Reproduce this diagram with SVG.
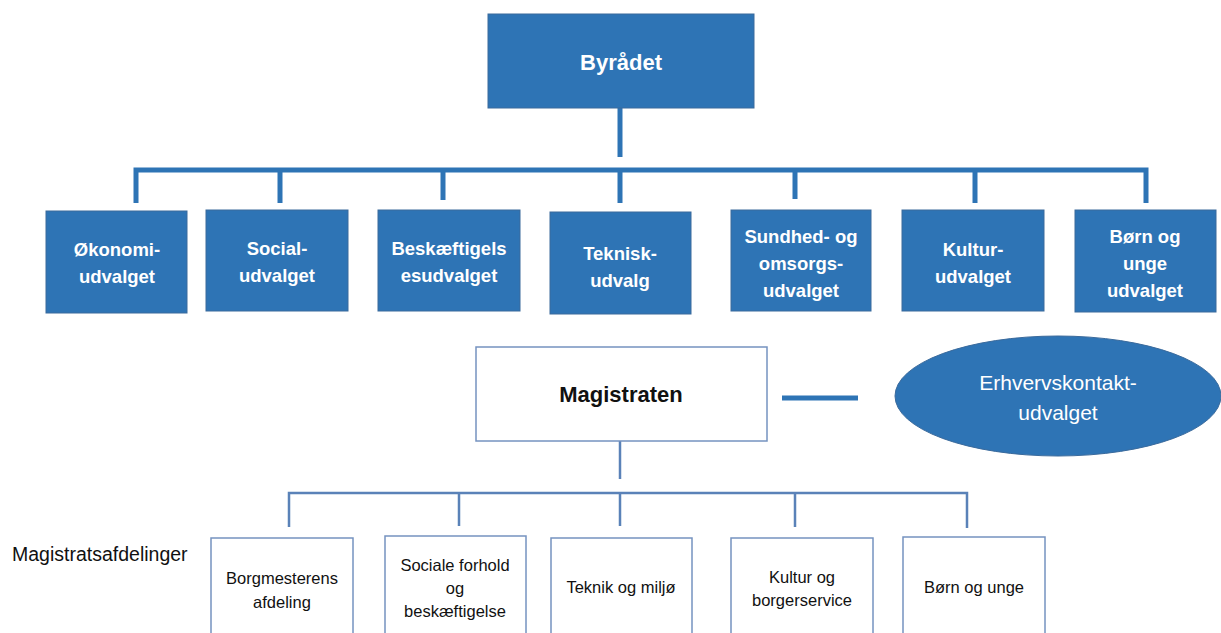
<svg xmlns="http://www.w3.org/2000/svg" width="1221" height="633" viewBox="0 0 1221 633">
<style>
.bx{fill:#2E74B5;stroke:#3A6A9C;stroke-width:1}
.wb{fill:#fff;stroke:#7593C0;stroke-width:1.5}
.tw{font-family:"Liberation Sans",Arial,sans-serif;font-weight:bold;fill:#fff;font-size:18.5px;text-anchor:middle}
.tk{font-family:"Liberation Sans",Arial,sans-serif;fill:#111;font-size:16.5px;text-anchor:middle}
.c1{stroke:#2E74B5;stroke-width:5;fill:none}
.c2{stroke:#5A82B8;stroke-width:2.5;fill:none}
</style>
<rect width="1221" height="633" fill="#fff"/>
<g id="connectors">
<path class="c1" d="M620 108V157"/>
<path class="c1" d="M136 203V170H1146V203M280 170V203M443 170V200M620 170V203M795 170V199M975 170V203"/>
<path class="c1" d="M782 398H858"/>
<path class="c2" d="M620 441V479"/>
<path class="c2" d="M289 527V493H967V528M459 493V526M620 493V526M795 493V527"/>
</g>
<g id="byraadet"><rect class="bx" x="488" y="14" width="266" height="94"/><text class="tw" x="621" y="70" style="font-size:22px">Byrådet</text></g>
<g id="okonomi"><rect class="bx" x="46" y="211" width="141" height="102"/><text class="tw" x="117" y="256">Økonomi-</text><text class="tw" x="117" y="283">udvalget</text></g>
<g id="social"><rect class="bx" x="206" y="210" width="142" height="101"/><text class="tw" x="277" y="255">Social-</text><text class="tw" x="277" y="282">udvalget</text></g>
<g id="beskaeft"><rect class="bx" x="378" y="210" width="142" height="101"/><text class="tw" x="449" y="255">Beskæftigels</text><text class="tw" x="449" y="282">esudvalget</text></g>
<g id="teknisk"><rect class="bx" x="550" y="212" width="141" height="102"/><text class="tw" x="620" y="260">Teknisk-</text><text class="tw" x="620" y="287">udvalg</text></g>
<g id="sundhed"><rect class="bx" x="731" y="210" width="140" height="101"/><text class="tw" x="801" y="243">Sundhed- og</text><text class="tw" x="801" y="270">omsorgs-</text><text class="tw" x="801" y="297">udvalget</text></g>
<g id="kultur"><rect class="bx" x="902" y="210" width="142" height="101"/><text class="tw" x="973" y="256">Kultur-</text><text class="tw" x="973" y="283">udvalget</text></g>
<g id="boern"><rect class="bx" x="1075" y="210" width="141" height="102"/><text class="tw" x="1145" y="243">Børn og</text><text class="tw" x="1145" y="270">unge</text><text class="tw" x="1145" y="297">udvalget</text></g>
<g id="magistraten"><rect class="wb" x="476" y="347" width="291" height="94"/><text x="621" y="402" font-family="Liberation Sans,Arial,sans-serif" font-weight="bold" font-size="22" text-anchor="middle" fill="#111">Magistraten</text></g>
<g id="erhverv"><ellipse cx="1058" cy="396" rx="163" ry="60" fill="#2E74B5" stroke="#3A6A9C" stroke-width="1"/><text x="1058" y="390" font-family="Liberation Sans,Arial,sans-serif" font-size="21" fill="#fff" text-anchor="middle">Erhvervskontakt-</text><text x="1058" y="420" font-family="Liberation Sans,Arial,sans-serif" font-size="21" fill="#fff" text-anchor="middle">udvalget</text></g>
<text x="12" y="561" font-family="Liberation Sans,Arial,sans-serif" font-size="19.5" fill="#111">Magistratsafdelinger</text>
<g id="borgmester"><rect class="wb" x="211" y="538" width="142" height="100"/><text class="tk" x="282" y="584">Borgmesterens</text><text class="tk" x="282" y="608">afdeling</text></g>
<g id="sociale"><rect class="wb" x="385" y="536" width="141" height="102"/><text class="tk" x="455" y="571">Sociale forhold</text><text class="tk" x="455" y="594">og</text><text class="tk" x="455" y="617">beskæftigelse</text></g>
<g id="teknik"><rect class="wb" x="551" y="538" width="141" height="100"/><text class="tk" x="621" y="593">Teknik og miljø</text></g>
<g id="kulturb"><rect class="wb" x="731" y="538" width="142" height="100"/><text class="tk" x="802" y="583">Kultur og</text><text class="tk" x="802" y="606">borgerservice</text></g>
<g id="boernb"><rect class="wb" x="903" y="537" width="142" height="101"/><text class="tk" x="974" y="593">Børn og unge</text></g>
</svg>
